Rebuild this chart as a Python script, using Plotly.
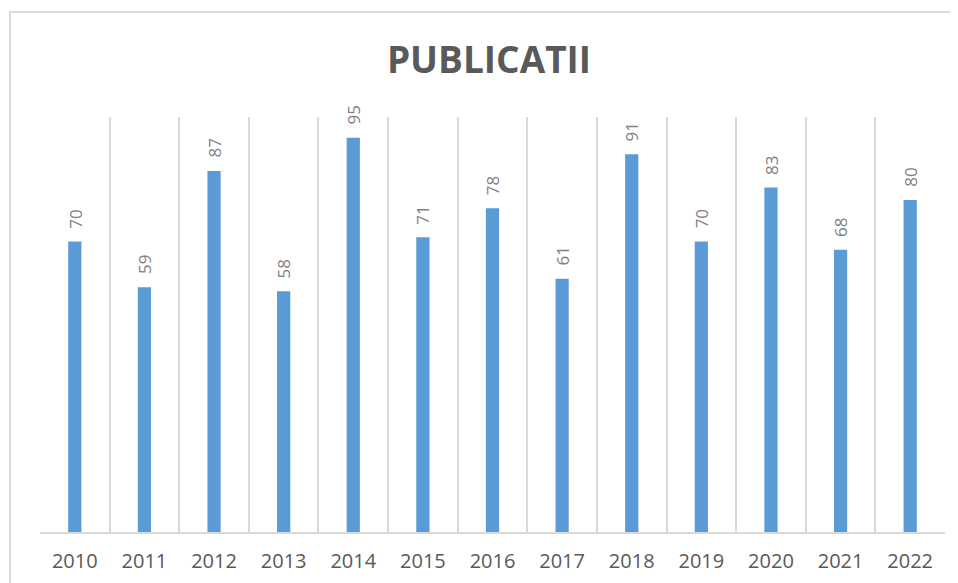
import plotly.graph_objects as go

years = ["2010", "2011", "2012", "2013", "2014", "2015", "2016",
         "2017", "2018", "2019", "2020", "2021", "2022"]
publications = [70, 59, 87, 58, 95, 71, 78, 61, 91, 70, 83, 68, 80]
chart_title = "PUBLICATII"

# page body has an 8px margin, so the figure is drawn at (8, 8)
W, H = 950, 575
L, R, T, B = 32, 13, 109, 51

fig = go.Figure()
fig.add_trace(go.Bar(
    x=years, y=publications,
    marker=dict(color="#5B9BD5", line=dict(width=0)),
    width=0.19,
    hoverinfo="x+y",
))

for i, v in enumerate(publications):
    fig.add_annotation(
        x=i, y=v, text=str(v), textangle=-90, showarrow=False,
        yanchor="bottom", xanchor="center", yshift=11,
        font=dict(family="Open Sans", size=17, color="#808080"),
    )

pw = W - L - R
ph = H - T - B
fig.add_shape(
    type="rect", xref="paper", yref="paper",
    x0=(2 - L) / pw, x1=1.2, y0=-0.5, y1=1 + (T - 4) / ph,
    line=dict(color="#d9d9d9", width=2), fillcolor="rgba(0,0,0,0)", layer="below",
)

fig.update_layout(
    width=W, height=H,
    margin=dict(l=L, r=R, t=T, b=B, autoexpand=False),
    paper_bgcolor="white", plot_bgcolor="white",
    showlegend=False,
    title=dict(
        text=chart_title, x=481 / W, xanchor="center",
        y=1 - 52 / H, yanchor="middle",
        font=dict(family="Open Sans", size=37, color="#595959", weight="bold"),
    ),
    xaxis=dict(
        type="category", tickson="boundaries", showgrid=True,
        range=[-0.5, len(years) - 0.5], automargin=False,
        gridcolor="#d9d9d9", gridwidth=1.5,
        showline=True, linecolor="#d9d9d9", linewidth=2,
        ticks="", ticklabelstandoff=10, tickangle=0,
        tickfont=dict(family="Open Sans", size=20, color="#595959"),
    ),
    yaxis=dict(range=[0, 100], visible=False, showgrid=False, zeroline=False),
)

fig.write_html("out.html")
